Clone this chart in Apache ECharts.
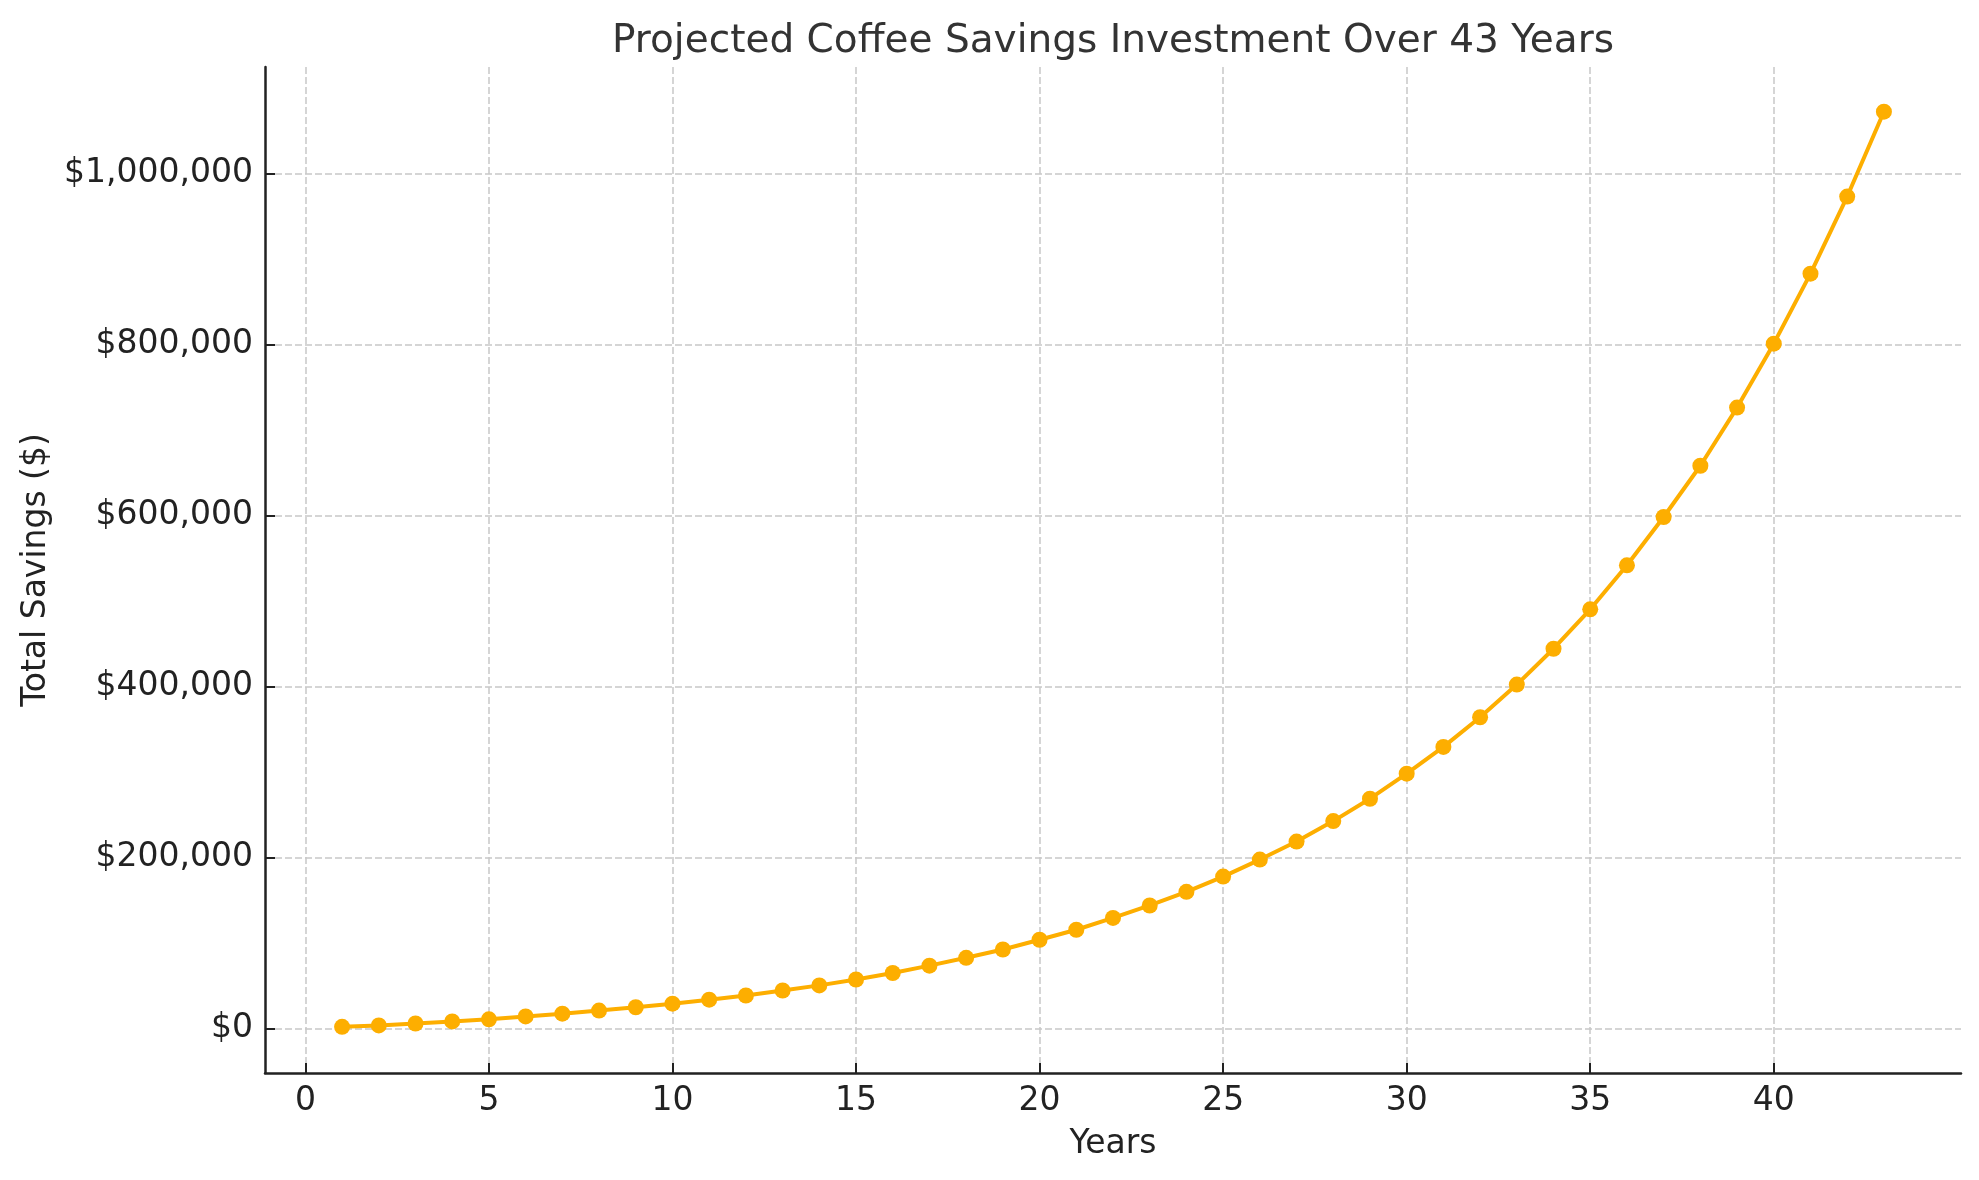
<!DOCTYPE html>
<html>
<head>
<meta charset="utf-8">
<title>Projected Coffee Savings Investment Over 43 Years</title>
<script src="https://cdn.jsdelivr.net/npm/echarts@6/dist/echarts.min.js"></script>
<style>
  html, body { margin: 0; padding: 0; background: #ffffff; }
  #chart { width: 1979px; height: 1180px; }
</style>
</head>
<body>
<div id="chart"></div>
<script>
// data
var years = [1, 2, 3, 4, 5, 6, 7, 8, 9, 10,
             11, 12, 13, 14, 15, 16, 17, 18, 19, 20,
             21, 22, 23, 24, 25, 26, 27, 28, 29, 30,
             31, 32, 33, 34, 35, 36, 37, 38, 39, 40,
             41, 42, 43];
var totalSavings = [2000, 3700, 5900, 8300, 10800, 14200, 17400, 21000, 24900, 29100,
                    33800, 38700, 44500, 50500, 57400, 65000, 73600, 82800, 92500, 103900,
                    115600, 129400, 144000, 160000, 177800, 197700, 218800, 242700, 268900, 298200,
                    329500, 364200, 402400, 444400, 490500, 542000, 598500, 658500, 726500, 801300,
                    883200, 973400, 1072700];
var xTicks = [0, 5, 10, 15, 20, 25, 30, 35, 40];
var yTicks = [0, 200000, 400000, 600000, 800000, 1000000];

var font = 'DejaVu Sans';

function money(v){
	return '$' + Math.round(v).toLocaleString('en-US');
}

var points = [];
for (var i = 0; i < years.length; i++) {
	points.push([years[i], totalSavings[i]]);
}

var gridLine = {
	show: true,
	lineStyle: { color: '#c8c8c8', width: 1.5, type: [7, 3] }
};

var myChart = echarts.init(document.getElementById('chart'), null, {renderer: 'canvas'});
var option = {
	animation: false,
	backgroundColor: '#ffffff',
	title: {
		text: 'Projected Coffee Savings Investment Over 43 Years',
		left: 612,
		top: 22,
		padding: 0,
		textStyle: {
			color: '#333333',
			fontFamily: font,
			fontWeight: 'normal',
			fontSize: 39
		}
	},
	grid: {
		left: 265,
		right: 18,
		top: 67,
		bottom: 107,
		containLabel: false
	},
	xAxis: {
		type: 'value',
		min: -1.1,
		max: 45.1,
		name: 'Years',
		nameLocation: 'middle',
		nameGap: 55,
		nameTextStyle: { color: '#222222', fontFamily: font, fontSize: 33 },
		axisLine: { show: true, onZero: false, lineStyle: { color: '#222222', width: 2.5 } },
		axisTick: { show: true, inside: true, length: 10, customValues: xTicks,
			lineStyle: { color: '#222222', width: 2 } },
		axisLabel: { customValues: xTicks, margin: 12, color: '#222222', fontFamily: font, fontSize: 33 },
		splitLine: Object.assign({ customValues: xTicks }, gridLine)
	},
	yAxis: {
		type: 'value',
		min: -52000,
		max: 1125000,
		name: 'Total Savings ($)',
		nameLocation: 'middle',
		nameRotate: 90,
		nameGap: 212,
		nameTextStyle: { color: '#222222', fontFamily: font, fontSize: 33 },
		axisLine: { show: true, onZero: false, lineStyle: { color: '#222222', width: 2.5 } },
		axisTick: { show: true, inside: true, length: 10, customValues: yTicks,
			lineStyle: { color: '#222222', width: 2 } },
		axisLabel: { customValues: yTicks, margin: 12, color: '#222222', fontFamily: font, fontSize: 33,
			formatter: money },
		splitLine: Object.assign({ customValues: yTicks }, gridLine)
	},
	series: [{
		name: 'Total Savings',
		type: 'line',
		data: points,
		symbol: 'circle',
		symbolSize: 16,
		showSymbol: true,
		clip: false,
		lineStyle: { color: '#FDAE00', width: 4 },
		itemStyle: { color: '#FDAE00' }
	}]
};
myChart.setOption(option, true);
</script>
</body>
</html>
